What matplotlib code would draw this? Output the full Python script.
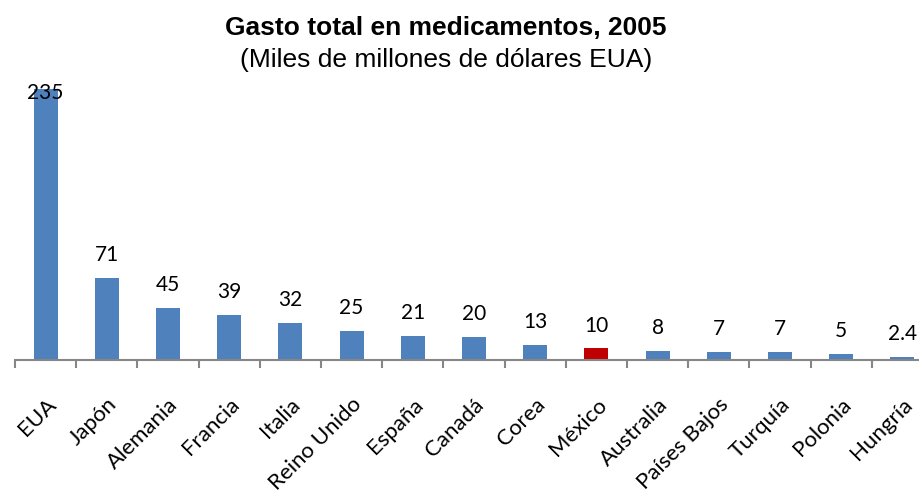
import numpy as np
import matplotlib.pyplot as plt

paises = ["EUA", "Japón", "Alemania", "Francia", "Italia", "Reino Unido", "España",
          "Canadá", "Corea", "México", "Australia", "Países Bajos", "Turquía",
          "Polonia", "Hungría"]
gasto = [235, 71, 45, 39, 32, 25, 21, 20, 13, 10, 8, 7, 7, 5, 2.4]
etiquetas = ["235", "71", "45", "39", "32", "25", "21", "20", "13", "10", "8", "7", "7", "5", "2.4"]

azul = "#4F81BD"
rojo = "#C00000"
colores = [rojo if p == "México" else azul for p in paises]

fig = plt.figure(figsize=(9.2, 5.02), dpi=100)
# axis spans px 15..933 horizontally (right end is cut off), baseline at y=361
ax = fig.add_axes([15 / 920, (502 - 361) / 502, 918 / 920, 271 / 502])

x = np.arange(len(paises))
ax.bar(x, gasto, width=0.39, color=colores, zorder=2)
ax.set_xlim(-0.5, len(paises) - 0.5)
ax.set_ylim(0, 235)

for xi, v, t in zip(x, gasto, etiquetas):
    if xi == 0:
        ax.annotate(t, (xi, v), xytext=(0, -2), textcoords="offset points",
                    ha="center", va="center", fontsize=15, family="Lato", color="black")
    else:
        ax.annotate(t, (xi, v), xytext=(0, 10), textcoords="offset points",
                    ha="center", va="bottom", fontsize=15, family="Lato", color="black")

for s in ["top", "right", "left"]:
    ax.spines[s].set_visible(False)
ax.spines["bottom"].set_color("#868686")
ax.spines["bottom"].set_linewidth(1.5)
ax.set_yticks([])

ax.set_xticks(np.arange(len(paises) + 1) - 0.5, minor=False)
ax.set_xticklabels([])
ax.tick_params(axis="x", which="major", length=6, width=1.5, color="#868686")
ax.set_xticks(x, minor=True)
ax.set_xticklabels(paises, minor=True, rotation=45, ha="right", va="top",
                   rotation_mode="anchor", fontsize=16, family="Lato")
ax.tick_params(axis="x", which="minor", length=0, pad=24)

fig.text(446 / 920, 1 - 28 / 502, "Gasto total en medicamentos, 2005", ha="center", va="center",
         fontsize=19, fontweight="bold", family="Liberation Sans")
fig.text(446 / 920, 1 - 60 / 502, "(Miles de millones de dólares EUA)", ha="center", va="center",
         fontsize=19, family="Liberation Sans")

fig.savefig("out.png", dpi=100)
